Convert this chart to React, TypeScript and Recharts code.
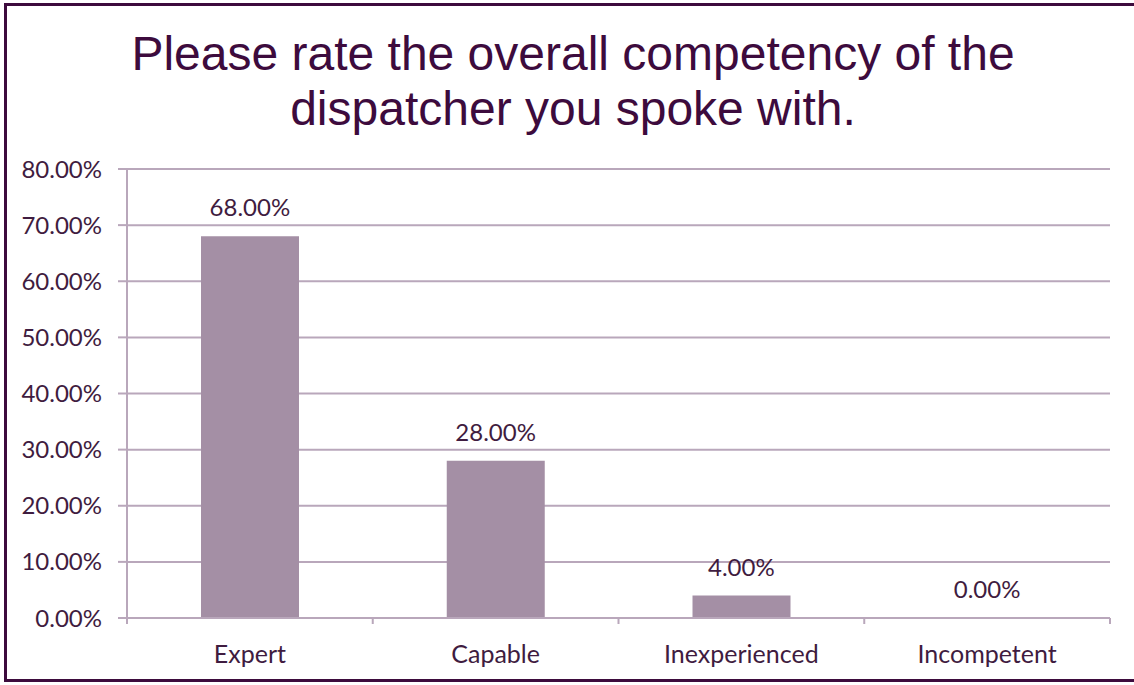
import React from "react";
import { ComposedChart, Bar, Line, XAxis, YAxis, CartesianGrid, LabelList } from "recharts";

const categories = ["Expert", "Capable", "Inexperienced", "Incompetent"];
const values = [68, 28, 4, 0];
const yTicks = [0, 10, 20, 30, 40, 50, 60, 70, 80];
const titleLines = ["Please rate the overall competency of the", "dispatcher you spoke with."];

const data = categories.map((c, i) => ({ name: c, value: values[i] }));

const TEXT = "#3f1c40";
const GRID = "#b9a7bb";
const BAR = "#a48fa5";
const DARK = "#3d0b3d";
const FONT = "Lato, 'Open Sans', sans-serif";

const fmt = (v: number) => `${Number(v).toFixed(2)}%`;

const CatTick = (props: any) => {
  const { x, y, payload, index } = props;
  const off = payload?.offset ?? 0;
  const axisY = y - 29;
  const last = index === categories.length - 1;
  return (
    <g>
      <line x1={x - off} x2={x - off} y1={axisY} y2={axisY + 6} stroke={GRID} strokeWidth={2} />
      {last && <line x1={x + off} x2={x + off} y1={axisY} y2={axisY + 6} stroke={GRID} strokeWidth={2} />}
      <text x={x} y={y} dy={16} textAnchor="middle" fill={TEXT} fontSize={25} fontFamily={FONT}>
        {payload.value}
      </text>
    </g>
  );
};

export default function App() {
  return (
    <div style={{ position: "absolute", left: 0, top: 0, width: 1134, height: 685, background: "#fff", overflow: "hidden" }}>
      <div
        style={{
          position: "absolute",
          left: 4,
          top: 3,
          width: 1200,
          height: 679,
          borderLeft: `3px solid ${DARK}`,
          borderTop: `3px solid ${DARK}`,
          borderBottom: `3px solid ${DARK}`,
          boxSizing: "border-box",
        }}
      />
      <div
        style={{
          position: "absolute",
          left: 0,
          top: 26,
          width: 1146,
          textAlign: "center",
          fontFamily: "'Liberation Sans', Arial, sans-serif",
          fontSize: 48,
          lineHeight: "55px",
          color: DARK,
        }}
      >
        {titleLines[0]}
        <br />
        {titleLines[1]}
      </div>
      <div style={{ position: "absolute", left: 0, top: 0 }}>
        <ComposedChart
          width={1134}
          height={685}
          data={data}
          margin={{ top: 169, right: 24, bottom: 27, left: 0 }}
        >
          <CartesianGrid horizontal vertical={false} stroke={GRID} strokeWidth={2} />
          <XAxis
            dataKey="name"
            height={40}
            axisLine={{ stroke: GRID, strokeWidth: 2 }}
            tickLine={false}
            tickSize={6}
            tickMargin={23}
            interval={0}
            tick={<CatTick />}
          />
          <YAxis
            width={127}
            domain={[0, 80]}
            ticks={yTicks}
            tickFormatter={fmt}
            tickSize={9}
            tickMargin={16}
            axisLine={{ stroke: GRID, strokeWidth: 2 }}
            tickLine={{ stroke: GRID, strokeWidth: 2 }}
            tick={{ fill: TEXT, fontSize: 24, fontFamily: FONT }}
          />
          <Bar dataKey="value" fill={BAR} barSize={98} isAnimationActive={false} />
          <Line
            dataKey="value"
            stroke="none"
            dot={false}
            activeDot={false}
            legendType="none"
            isAnimationActive={false}
          >
            <LabelList
              dataKey="value"
              position="top"
              offset={20}
              formatter={(v: number) => fmt(v)}
              style={{ fill: TEXT, fontSize: 24, fontFamily: FONT }}
            />
          </Line>
        </ComposedChart>
      </div>
    </div>
  );
}
